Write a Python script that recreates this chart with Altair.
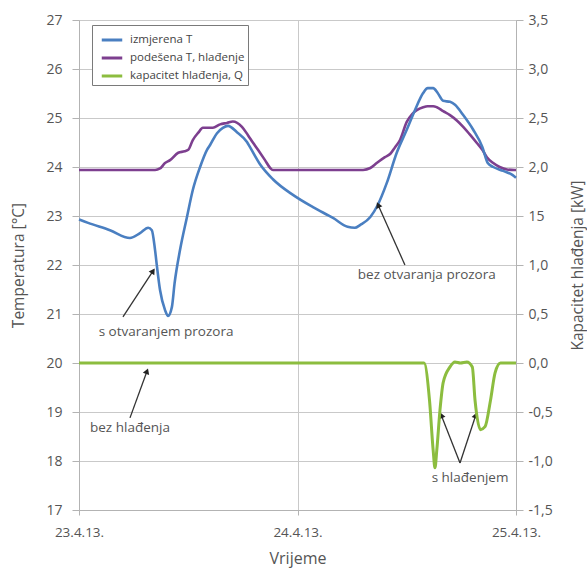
import math
import altair as alt
import pandas as pd

# ---------------- data ----------------
series_names = ["izmjerena T", "podešena T, hlađenje", "kapacitet hlađenja, Q"]
series_colors = ["#4a7fc1", "#7d3f8f", "#8cbd3f"]

# measured temperature (hours since 23.4.13. 00:00, °C)
hours_meas = [0, 1.0, 3.4, 5.6, 6.7, 7.6, 8.0, 8.35, 8.57, 8.9, 9.45, 9.78, 10.2, 10.5,
              11.1, 11.86, 12.5, 13.3, 14.06, 14.4, 15.16, 15.8, 16.37, 17.35, 18.45,
              18.8, 19.9, 21.3, 23.5, 25.7, 27.9, 29.5, 30.3, 30.9, 32.0, 32.8, 33.8,
              34.9, 36.0, 36.9, 37.8, 38.3, 38.9, 39.4, 40.0, 40.75, 41.3, 42.2, 43.3,
              44.3, 44.9, 45.5, 46.6, 47.6, 48.0]
temp_meas = [22.93, 22.86, 22.71, 22.55, 22.65, 22.76, 22.71, 22.31, 21.96, 21.49, 21.08,
             20.96, 21.14, 21.63, 22.31, 22.98, 23.53, 24.0, 24.35, 24.45, 24.69, 24.8,
             24.84, 24.71, 24.51, 24.4, 24.05, 23.75, 23.43, 23.18, 22.96, 22.78, 22.76,
             22.82, 22.98, 23.22, 23.67, 24.29, 24.76, 25.16, 25.51, 25.61, 25.61, 25.51,
             25.35, 25.33, 25.27, 25.06, 24.76, 24.41, 24.08, 24.0, 23.92, 23.84, 23.78]

# set-point temperature
hours_set = [0, 8.35, 8.9, 9.45, 10.0, 10.9, 11.6, 12.0, 12.5, 13.1, 13.6, 14.7, 15.5,
             16.26, 16.9, 17.9, 18.56, 19.1, 19.66, 20.43, 21.0, 21.3, 31.2, 32.0, 32.7,
             33.6, 34.2, 34.7, 35.26, 36.0, 36.6, 37.1, 37.8, 38.3, 38.9, 39.3, 40.0,
             40.75, 41.5, 42.2, 42.9, 43.7, 44.3, 44.8, 45.5, 46.2, 47.0, 47.9, 48.0]
temp_set = [23.94, 23.94, 23.97, 24.08, 24.14, 24.29, 24.32, 24.35, 24.55, 24.7, 24.8,
            24.8, 24.87, 24.9, 24.93, 24.82, 24.65, 24.5, 24.35, 24.14, 23.98, 23.94,
            23.94, 23.98, 24.08, 24.2, 24.27, 24.4, 24.55, 24.92, 25.08, 25.16, 25.22,
            25.24, 25.24, 25.22, 25.14, 25.06, 24.95, 24.82, 24.67, 24.49, 24.35, 24.2,
            24.08, 24.0, 23.95, 23.94, 23.94]

# cooling capacity (kW)
hours_q = [0, 37.4, 37.9, 38.5, 38.9, 39.1, 39.3, 39.65, 40.0, 40.75, 41.3, 41.9, 42.6,
           43.2, 43.5, 44.1, 44.6, 45.2, 45.7, 46.3, 48.0]
q_vals = [0, 0, 0, -0.38, -0.89, -1.07, -0.89, -0.48, -0.2, -0.04, 0.01, 0, 0.01, -0.04,
          -0.38, -0.68, -0.65, -0.38, -0.1, 0, 0]

# annotations
ann_text = ["s otvaranjem prozora", "bez otvaranja prozora", "bez hlađenja", "s hlađenjem"]
ann_h = [9.56, 38.2, 5.6, 42.95]
ann_T = [20.63, 21.8, 18.67, 17.65]

arrow_h1 = [4.83, 35.8, 5.6, 41.85, 41.85]
arrow_T1 = [20.94, 22.0, 18.88, 17.96, 17.96]
arrow_h2 = [8.35, 32.7, 7.6, 39.65, 43.7]
arrow_T2 = [21.94, 23.29, 19.9, 19.0, 19.0]

x_tick_values = [0, 24, 48]
x_tick_labels = ["23.4.13.", "24.4.13.", "25.4.13."]
left_tick_values = list(range(17, 28))
right_tick_values = [-1.5, -1.0, -0.5, 0.0, 0.5, 1.0, 1.5, 2.0, 2.5, 3.0, 3.5]
right_tick_labels = ["-1,5", "-1,0", "-0,5", "0,0", "0,5", "1,0", "15", "2,0", "2,5", "3,0", "3,5"]

# ---------------- layout ----------------
W, H = 437, 490
PXH = W / 48.0
PXT = H / 10.0
GRID = "#c9c9c9"
AXC = "#b3b3b3"
TXT = "#555555"
FONT = "Open Sans"

df_meas = pd.DataFrame({"h": hours_meas, "T": temp_meas, "series": series_names[0]})
df_set = pd.DataFrame({"h": hours_set, "T": temp_set, "series": series_names[1]})
df_q = pd.DataFrame({"h": hours_q, "Q": q_vals, "series": series_names[2]})
df_ann = pd.DataFrame({"h": ann_h, "T": ann_T, "label": ann_text})

angles, hx, tx = [], [], []
for a, b, c, d in zip(arrow_h1, arrow_T1, arrow_h2, arrow_T2):
    dx = (c - a) * PXH
    dy = -(d - b) * PXT
    ang = math.degrees(math.atan2(dx, -dy)) % 360
    angles.append(ang)
    L = math.hypot(dx, dy)
    back = 3.5
    hx.append(c - dx / L * back / PXH)
    tx.append(d + dy / L * back / PXT)
df_arrow = pd.DataFrame({"h": arrow_h1, "T": arrow_T1, "h2": arrow_h2, "T2": arrow_T2,
                         "hh": hx, "th": tx, "angle": angles})

label_expr_x = " : ".join(
    f"datum.value == {v} ? '{l}'" for v, l in zip(x_tick_values[:-1], x_tick_labels[:-1])
) + f" : '{x_tick_labels[-1]}'"
right_expr = "[" + ",".join(f"'{l}'" for l in right_tick_labels) + "][round((datum.value + 1.5) * 2)]"

x_scale = alt.Scale(domain=[0, 48], nice=False, zero=False)
x_axis = alt.Axis(values=x_tick_values, labelExpr=label_expr_x, title="Vrijeme",
                  grid=True, gridColor=GRID, domainColor=AXC, tickColor=AXC,
                  tickSize=5, labelPadding=10, labelFontSize=13.5, labelColor=TXT,
                  labelFlush=False, labelOverlap=False,
                  labelFont=FONT, titleFont=FONT, titleFontSize=16,
                  titleFontWeight="normal", titleColor=TXT,
                  titleX=W / 2, titleY=48, titleBaseline="middle")

left_scale = alt.Scale(domain=[17, 27], nice=False, zero=False)
left_axis = alt.Axis(values=left_tick_values, title="Temperatura [°C]", grid=True,
                     gridColor=GRID, domainColor=AXC, tickColor=AXC, tickSize=7,
                     labelPadding=10, labelFontSize=14, labelColor=TXT, labelFont=FONT,
                     titleFont=FONT, titleFontSize=15.5, titleFontWeight="normal",
                     titleColor=TXT, titleAngle=270, titleX=-61, titleY=H / 2,
                     titleBaseline="middle", titleAlign="center")


def xe(field):
    return alt.X(field, scale=x_scale, axis=x_axis, title="Vrijeme")


def ye(field):
    return alt.Y(field, scale=left_scale, axis=left_axis, title="Temperatura [°C]")


right_axis = alt.Axis(values=right_tick_values, labelExpr=right_expr, orient="right",
                      title="Kapacitet hlađenja [kW]", grid=False, domainColor=AXC,
                      tickColor=AXC, tickSize=7, labelPadding=5, labelFontSize=14,
                      labelColor=TXT, labelFont=FONT, titleFont=FONT, titleFontSize=15.5,
                      titleFontWeight="normal", titleColor=TXT, titleAngle=270, titleX=61,
                      titleY=H / 2, titleBaseline="middle", titleAlign="center")
y_right = alt.Y("Q:Q", scale=alt.Scale(domain=[-1.5, 3.5], nice=False, zero=False), axis=right_axis)

legend = alt.Legend(orient="none", legendX=13, legendY=5, title=None, symbolType="stroke",
                    symbolSize=420, symbolStrokeWidth=3, labelFontSize=11.5, labelColor="#444",
                    labelFont=FONT, strokeColor="#7a7a7a", fillColor="white", padding=3,
                    symbolOffset=5, rowPadding=0, labelOffset=6)
color_enc = alt.Color("series:N", scale=alt.Scale(domain=series_names, range=series_colors),
                      legend=legend)

set_line = alt.Chart(df_set).mark_line(strokeWidth=2.6, interpolate="monotone").encode(
    x=xe("h:Q"), y=ye("T:Q"), color=color_enc)
meas_line = alt.Chart(df_meas).mark_line(strokeWidth=2.6, interpolate="monotone").encode(
    x=xe("h:Q"), y=ye("T:Q"), color=color_enc)

arrows = alt.Chart(df_arrow).mark_rule(color="#333333", strokeWidth=1.3).encode(
    x=xe("h:Q"), y=ye("T:Q"), x2="hh:Q", y2="th:Q")
heads = alt.Chart(df_arrow).mark_point(shape="triangle-up", filled=True, color="#222222",
                                       size=45, opacity=1).encode(
    x=xe("hh:Q"), y=ye("th:Q"), angle=alt.Angle("angle:Q", scale=None))
texts = alt.Chart(df_ann).mark_text(font=FONT, fontSize=13.5, color=TXT).encode(
    x=xe("h:Q"), y=ye("T:Q"), text="label:N")

left = alt.layer(set_line, meas_line, arrows, heads, texts)
right = alt.Chart(df_q).mark_line(strokeWidth=3, interpolate="monotone").encode(
    x=xe("h:Q"), y=y_right, color=color_enc)

chart = alt.layer(left, right).resolve_scale(y="independent").properties(
    width=W, height=H,
    autosize=alt.AutoSizeParams(type="none"),
    padding={"left": 79, "top": 20, "right": 71, "bottom": 58},
).configure_view(stroke=None).configure(font=FONT)

chart.save("out.html", embed_options={"renderer": "svg", "actions": False})
